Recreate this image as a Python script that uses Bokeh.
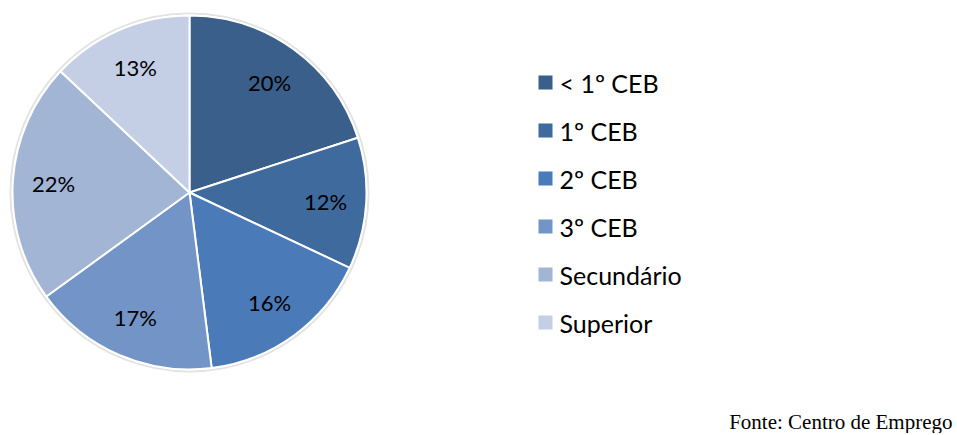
import math
from bokeh.plotting import figure
from bokeh.models import Range1d, ColumnDataSource
from bokeh.core.properties import value
from bokeh.embed import file_html
from bokeh.resources import INLINE

categories = ["< 1º CEB", "1º CEB", "2º CEB", "3º CEB", "Secundário", "Superior"]
shares = [20, 12, 16, 17, 22, 13]
colors = ["#3A5F8B", "#3F6A9D", "#4A7AB7", "#7394C6", "#A2B5D5", "#C4CEE4"]
source_note = "Fonte: Centro de Emprego"

W, H = 955, 433
p = figure(width=W, height=H, output_backend="svg", toolbar_location=None,
           x_range=Range1d(0, W), y_range=Range1d(0, H), min_border=0)
p.axis.visible = False
p.grid.visible = False
p.outline_line_color = None

cx, cy, R = 189, H - 192, 177
total = sum(shares)
starts, ends, lx, ly, labels = [], [], [], [], []
cum = 0
for s in shares:
    a0 = math.pi / 2 - 2 * math.pi * cum / total
    cum += s
    a1 = math.pi / 2 - 2 * math.pi * cum / total
    starts.append(a0)
    ends.append(a1)
    mid = (a0 + a1) / 2
    lx.append(cx + 0.77 * R * math.cos(mid))
    ly.append(cy + 0.77 * R * math.sin(mid))
    labels.append(f"{round(100 * s / total)}%")

p.scatter([cx], [cy], size=2 * R + 4, fill_color=None, line_color="#e3e3e3", line_width=2)
src = ColumnDataSource(dict(start=starts, end=ends, color=colors))
p.wedge(x=cx, y=cy, radius=R, start_angle="start", end_angle="end", direction="clock",
        fill_color="color", line_color="white", line_width=2, source=src)
p.text(lx, ly, text=labels, text_align="center", text_baseline="middle",
       text_font=value("Lato"), text_font_size="22px", text_color="black")

# legend
ys = [H - (82 + 48 * i) for i in range(len(categories))]
p.rect([545] * len(categories), ys, width=14, height=14, fill_color=colors, line_color=None)
p.text([559] * len(categories), ys, text=categories, text_align="left", text_baseline="middle",
       text_font=value("Lato"), text_font_size="25px", text_color="black")

p.text([952], [H - 421], text=[source_note], text_align="right", text_baseline="middle",
       text_font=value("Liberation Serif"), text_font_size="21px", text_color="black")

open("out.html", "w").write(file_html(p, INLINE))
